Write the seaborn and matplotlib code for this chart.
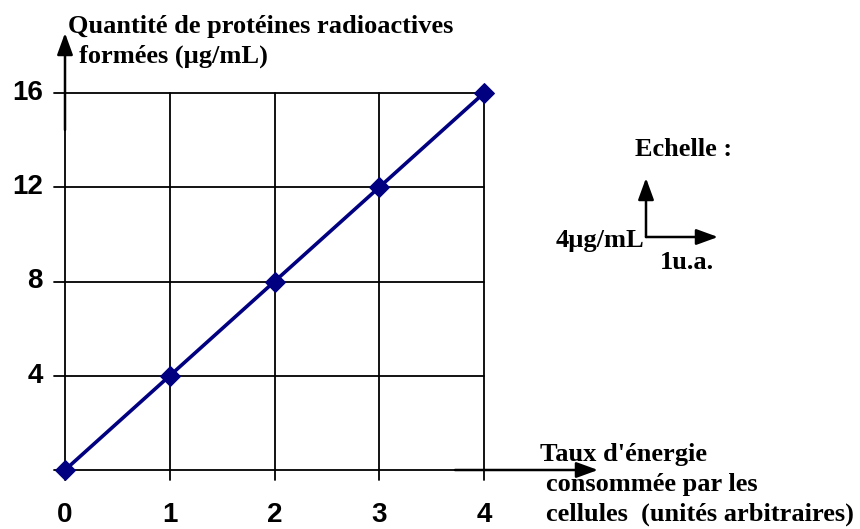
import matplotlib
matplotlib.use("Agg")
import matplotlib.pyplot as plt
import seaborn as sns
import pandas as pd

# --- data ---
energie = [0, 1, 2, 3, 4]
proteines = [0, 4, 8, 12, 16]
x_ticks = [0, 1, 2, 3, 4]
y_ticks = [4, 8, 12, 16]

df = pd.DataFrame({"energie": energie, "proteines": proteines})

sns.set_theme(style="white")
plt.rcParams["font.family"] = ["Liberation Serif", "DejaVu Serif"]

navy = "#000080"

# pixel -> data mapping (x=0 at px 65, x=4 at px 484; y=0 at px 470, y=16 at px 93)
px_x = (484 - 65) / 4
px_y = (470 - 93) / 16
W, H = 860, 529

fig = plt.figure(figsize=(W / 100, H / 100), dpi=100)
ax = fig.add_axes([0, 0, 1, 1])
ax.set_xlim(-65 / px_x, (W - 65) / px_x)
ax.set_ylim(-(H - 470) / px_y, 470 / px_y)
ax.axis("off")

# grid
for yv in [0] + y_ticks:
    ax.plot([-11 / px_x, 4], [yv, yv], color="black", lw=1.3, zorder=1)
for xv in x_ticks:
    ax.plot([xv, xv], [-10 / px_y, 16], color="black", lw=1.3, zorder=1)

sns.lineplot(data=df, x="energie", y="proteines", ax=ax, color=navy,
             lw=2.6, marker="D", markersize=10, markeredgecolor=navy, zorder=3)

arrow = dict(arrowstyle="-|>,head_length=1.1,head_width=0.4",
             color="black", lw=1.8, shrinkA=0, shrinkB=0)

# axis arrows
ax.annotate("", xy=(0, (470 - 33) / px_y), xytext=(0, (470 - 130) / px_y),
            arrowprops=arrow)
ax.annotate("", xy=((598 - 65) / px_x, 0), xytext=((455 - 65) / px_x, 0),
            arrowprops=arrow)

tick_font = dict(family=["Liberation Sans", "DejaVu Sans"], fontweight="bold",
                 fontsize=20, color="black")
for xv in x_ticks:
    ax.text(xv, -(515 - 470) / px_y, str(xv), ha="center", va="center", **tick_font)
for yv in y_ticks:
    ax.text(-(65 - 43) / px_x, yv, str(yv), ha="right", va="center", **tick_font)

lab = dict(fontweight="bold", fontsize=19, color="black")
fig.text(68 / W, 1 - 26 / H, "Quantité de protéines radioactives",
         ha="left", va="center", **lab)
fig.text(79 / W, 1 - 56 / H, "formées (µg/mL)", ha="left", va="center", **lab)
fig.text(540 / W, 1 - 454 / H, "Taux d'énergie", ha="left", va="center", **lab)
fig.text(546 / W, 1 - 484 / H, "consommée par les", ha="left", va="center", **lab)
fig.text(546 / W, 1 - 514 / H, "cellules  (unités arbitraires)", ha="left",
         va="center", **lab)

# scale
fig.text(635 / W, 1 - 150 / H, "Echelle :", ha="left", va="center", **lab)
ox, oy = (646 - 65) / px_x, (470 - 237) / px_y
ax.annotate("", xy=(ox, (470 - 178) / px_y), xytext=(ox, oy),
            arrowprops=arrow)
ax.annotate("", xy=((718 - 65) / px_x, oy), xytext=(ox, oy),
            arrowprops=arrow)
fig.text(644 / W, 1 - 240 / H, "4µg/mL", ha="right", va="center", **lab)
fig.text(660 / W, 1 - 262 / H, "1u.a.", ha="left", va="center", **lab)

fig.savefig("out.png", dpi=100)
